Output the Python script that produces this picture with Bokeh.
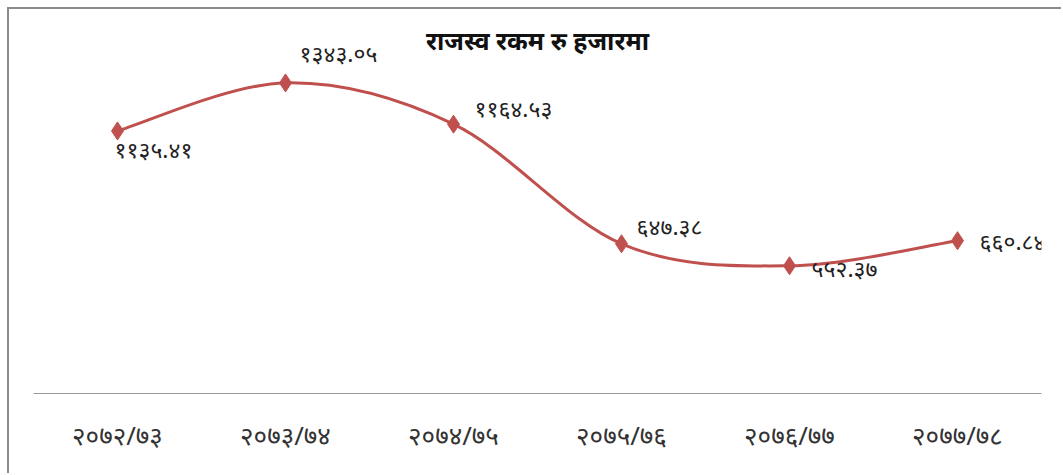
from bokeh.plotting import figure
from bokeh.models import ColumnDataSource, FactorRange, Range1d, Label
from bokeh.core.properties import value
from bokeh.embed import file_html
from bokeh.resources import INLINE

# ---- data ----
categories = ["२०७२/७३", "२०७३/७४", "२०७४/७५", "२०७५/७६", "२०७६/७७", "२०७७/७८"]
revenue = [1135.41, 1343.05, 1164.53, 647.38, 552.37, 660.84]
value_labels = ["११३५.४१", "१३४३.०५", "११६४.५३", "६४७.३८", "५५२.३७", "६६०.८४"]
title_text = "राजस्व रकम रु हजारमा"

# ---- label placement (screen px) ----
label_dx = [-3, 14, 21, 15, 22, 22]
label_dy = [18, -30, -16, -18, 2, 0]

RED = "#C0504D"
FONT = "Noto Sans"

p = figure(
    x_range=FactorRange(*categories, range_padding=0),
    y_range=Range1d(0, 1600),
    width=1054, height=466,
    min_border_left=24, min_border_right=22, min_border_top=14, min_border_bottom=82,
    output_backend="svg", toolbar_location=None,
    styles={"border-left": "2px solid #8a8a8a", "border-top": "2px solid #8a8a8a",
            "margin-left": "7px", "margin-top": "7px"},
)
p.outline_line_color = None
p.xgrid.grid_line_color = None
p.ygrid.grid_line_color = None
p.yaxis.visible = False

ax = p.xaxis[0]
ax.axis_line_color = "#9a9a9a"
ax.axis_line_width = 1
ax.major_tick_line_color = None
ax.minor_tick_line_color = None
ax.major_label_standoff = 17
ax.major_label_text_font = FONT
ax.major_label_text_font_size = "26px"
ax.major_label_text_color = "#333333"

# smooth curve (Catmull-Rom -> cubic Bezier, as spreadsheet "smoothed line")
xs = [i + 0.5 for i in range(len(revenue))]
n = len(revenue)
seg = dict(x0=[], y0=[], x1=[], y1=[], cx0=[], cy0=[], cx1=[], cy1=[])
for i in range(n - 1):
    p0 = (xs[max(i - 1, 0)], revenue[max(i - 1, 0)])
    p1 = (xs[i], revenue[i])
    p2 = (xs[i + 1], revenue[i + 1])
    p3 = (xs[min(i + 2, n - 1)], revenue[min(i + 2, n - 1)])
    seg["x0"].append(p1[0]); seg["y0"].append(p1[1])
    seg["x1"].append(p2[0]); seg["y1"].append(p2[1])
    seg["cx0"].append(p1[0] + (p2[0] - p0[0]) / 6); seg["cy0"].append(p1[1] + (p2[1] - p0[1]) / 6)
    seg["cx1"].append(p2[0] - (p3[0] - p1[0]) / 6); seg["cy1"].append(p2[1] - (p3[1] - p1[1]) / 6)
p.bezier(source=ColumnDataSource(seg), x0="x0", y0="y0", x1="x1", y1="y1",
         cx0="cx0", cy0="cy0", cx1="cx1", cy1="cy1",
         line_color=RED, line_width=3)

src = ColumnDataSource(dict(cat=categories, val=revenue, lab=value_labels,
                            dx=label_dx, dy=label_dy))
p.scatter(x="cat", y="val", source=src, marker="diamond", size=18,
          fill_color=RED, line_color=RED)
p.text(x="cat", y="val", text="lab", source=src, x_offset="dx", y_offset="dy",
       text_font=value(FONT), text_font_size="23px", text_color="#222222",
       text_align="left", text_baseline="middle")

p.add_layout(Label(x=3, y=1530, text=title_text, text_font=FONT, text_font_size="25px",
                   text_font_style="bold", text_color="#111111",
                   text_align="center", text_baseline="middle"))

open("out.html", "w").write(file_html(p, INLINE))
